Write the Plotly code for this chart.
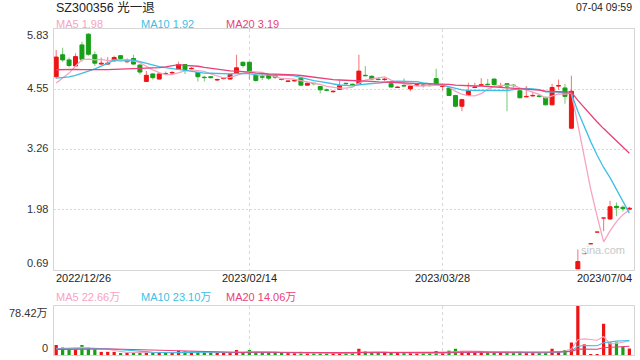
import plotly.graph_objects as go

# ---------------- data ----------------
title_text = "SZ300356 光一退"
timestamp_text = "07-04 09:59"

opens = [4.81, 5.28, 5.17, 5.04, 5.49, 5.72, 5.28, 5.08, 5.08, 5.15,
         5.26, 5.13, 5.20, 5.06, 4.71, 4.87, 4.76, 4.88, 4.89, 4.97,
         5.07, 4.98, 4.90, 4.80, 4.81, 4.74, 4.77, 4.76, 4.89, 5.12,
         5.12, 4.84, 4.81, 4.84, 4.84, 4.76, 4.71, 4.72, 4.78, 4.63,
         4.67, 4.60, 4.53, 4.49, 4.54, 4.67, 4.65, 4.66, 4.84, 4.82,
         4.76, 4.75, 4.66, 4.58, 4.62, 4.55, 4.63, 4.63, 4.63, 4.77,
         4.60, 4.57, 4.41, 4.18, 4.41, 4.58, 4.63, 4.65, 4.76, 4.61,
         4.66, 4.63, 4.51, 4.38, 4.40, 4.40, 4.37, 4.21, 4.61, 4.57,
         3.71, 0.70, 1.03, 1.24, 1.49, 1.79, 1.77, 2.04, 2.02, 1.98]
closes = [5.23, 5.17, 5.05, 5.24, 5.18, 5.29, 5.10, 5.10, 5.10, 5.22,
          5.20, 5.15, 5.08, 4.91, 4.84, 4.79, 4.87, 4.87, 4.90, 5.07,
          4.96, 4.99, 4.81, 4.79, 4.79, 4.75, 4.78, 4.86, 5.00, 5.05,
          4.93, 4.73, 4.80, 4.78, 4.80, 4.75, 4.72, 4.73, 4.63, 4.67,
          4.66, 4.53, 4.52, 4.50, 4.62, 4.66, 4.64, 4.93, 4.83, 4.76,
          4.75, 4.76, 4.59, 4.59, 4.61, 4.61, 4.64, 4.62, 4.62, 4.66,
          4.61, 4.41, 4.18, 4.32, 4.51, 4.59, 4.64, 4.64, 4.64, 4.62,
          4.61, 4.62, 4.36, 4.39, 4.41, 4.39, 4.21, 4.58, 4.62, 4.39,
          4.50, 0.86, 1.03, 1.24, 1.49, 1.79, 2.03, 2.01, 1.99, 2.00]
highs = [5.38, 5.43, 5.22, 5.31, 5.56, 5.74, 5.35, 5.22, 5.23, 5.26,
         5.27, 5.20, 5.28, 5.07, 4.93, 4.88, 4.88, 4.92, 4.93, 5.13,
         5.08, 5.02, 4.91, 4.83, 4.82, 4.77, 4.79, 4.88, 5.28, 5.13,
         5.13, 4.87, 4.88, 4.86, 4.85, 4.77, 4.73, 4.75, 4.80, 4.68,
         4.68, 4.61, 4.56, 4.52, 4.73, 4.68, 4.66, 5.28, 5.04, 4.84,
         4.80, 4.79, 4.68, 4.60, 4.77, 4.62, 4.66, 4.66, 4.65, 4.98,
         4.62, 4.58, 4.42, 4.34, 4.68, 4.68, 4.78, 4.76, 4.77, 4.68,
         4.67, 4.65, 4.52, 4.61, 4.49, 4.42, 4.38, 4.66, 4.75, 4.66,
         4.83, 1.12, 1.03, 1.24, 1.49, 1.79, 2.16, 2.12, 2.06, 2.03]
lows = [4.76, 5.13, 5.01, 5.02, 5.13, 5.26, 5.04, 5.07, 5.07, 5.13,
        5.18, 5.11, 5.07, 4.86, 4.70, 4.75, 4.75, 4.84, 4.86, 4.96,
        4.87, 4.96, 4.71, 4.71, 4.77, 4.72, 4.75, 4.75, 4.88, 5.00,
        4.75, 4.70, 4.74, 4.74, 4.76, 4.73, 4.70, 4.71, 4.62, 4.62,
        4.63, 4.45, 4.50, 4.47, 4.53, 4.64, 4.63, 4.65, 4.82, 4.74,
        4.73, 4.72, 4.58, 4.57, 4.60, 4.50, 4.61, 4.58, 4.60, 4.65,
        4.52, 4.40, 4.16, 4.07, 4.40, 4.57, 4.62, 4.63, 4.63, 4.60,
        4.07, 4.58, 4.35, 4.37, 4.39, 4.36, 4.20, 4.20, 4.53, 4.23,
        3.70, 0.69, 1.03, 1.24, 1.49, 1.51, 1.75, 1.83, 1.93, 1.96]
volumes = [16, 12, 9, 9, 16, 12, 9, 5, 5, 5,
           2, 4, 4, 5, 3, 3, 4, 3, 3, 7,
           6, 3, 6, 5, 4, 3, 2, 4, 8, 3,
           8, 5, 4, 5, 3, 3, 2, 2, 5, 3,
           3, 4, 3, 2, 4, 3, 2, 10, 6, 4,
           3, 3, 4, 3, 3, 3, 2, 3, 3, 6.4,
           3, 7, 10, 6, 5, 4, 4, 3, 4, 3,
           5, 3, 5, 3, 3, 3, 4, 10, 6, 8,
           20, 78.42, 17, 1.1, 1.2, 50, 20, 20, 13, 10.3]  # 万

# closes / volumes before the visible window (seed the moving averages)
prior_closes = [5.05, 5.10, 5.20, 5.25, 5.18, 5.12, 5.15, 5.10, 5.12, 5.13,
                5.00, 4.95, 4.90, 4.80, 4.75, 4.62, 4.55, 4.50, 4.49]
prior_volumes = [8, 8, 8, 8, 8, 8, 8, 8, 8, 8,
                 10, 10, 10, 10, 10, 9, 8, 9, 8]

date_labels = ["2022/12/26", "2023/02/14", "2023/03/28", "2023/07/04"]
date_index = [0, 30, 60, 89]
price_tick_vals = [5.83, 4.545, 3.26, 1.975, 0.69]
price_tick_text = ["5.83", "4.55", "3.26", "1.98", "0.69"]
vol_max = 78.42
vol_tick_text = ["78.42万", "0"]
price_ma_text = ["MA5 1.98", "MA10 1.92", "MA20 3.19"]
vol_ma_text = ["MA5 22.66万", "MA10 23.10万", "MA20 14.06万"]
ma_periods = [5, 10, 20]

# ---------------- styles ----------------
RED = "#ee1414"
GREEN = "#17a017"
RED_W = "rgba(238,20,20,0.55)"
GREEN_W = "rgba(23,160,23,0.55)"
MA_COLORS = ["#f7a3c2", "#3dbfe4", "#ea3f78"]
GRID = "#d9d9d9"
BORDER = "#d6d6d6"
TXT = "#333333"
FONT = "Arial, 'Liberation Sans', 'Noto Sans CJK SC', sans-serif"


def rolling_mean(prior, vals, n):
    allv = list(prior) + list(vals)
    off = len(prior)
    return [sum(allv[off + i - n + 1: off + i + 1]) / n for i in range(len(vals))]


n = len(closes)
idx = list(range(n))
up = [c >= o for o, c in zip(opens, closes)]
body_col = [RED if u else GREEN for u in up]
wick_col = [RED_W if u else GREEN_W for u in up]

fig = go.Figure()

# wicks
fig.add_trace(go.Bar(x=idx, y=[h - l for h, l in zip(highs, lows)], base=lows,
                     width=0.17, marker=dict(color=wick_col, line=dict(width=0)),
                     xaxis="x", yaxis="y", hoverinfo="skip", showlegend=False))
# bodies
fig.add_trace(go.Bar(x=idx, y=[abs(c - o) for o, c in zip(opens, closes)],
                     base=[min(o, c) for o, c in zip(opens, closes)],
                     width=0.62, marker=dict(color=body_col, line=dict(color=body_col, width=1)),
                     xaxis="x", yaxis="y", hoverinfo="skip", showlegend=False))
# price MAs
for p, col in zip(ma_periods, MA_COLORS):
    fig.add_trace(go.Scatter(x=idx, y=rolling_mean(prior_closes, closes, p), mode="lines",
                             line=dict(color=col, width=1.3), xaxis="x", yaxis="y",
                             hoverinfo="skip", showlegend=False))
# volume
fig.add_trace(go.Bar(x=idx, y=volumes, width=0.5, marker=dict(color=body_col, line=dict(width=0)),
                     xaxis="x2", yaxis="y2", hoverinfo="skip", showlegend=False))
for p, col in zip(ma_periods, MA_COLORS):
    fig.add_trace(go.Scatter(x=idx, y=rolling_mean(prior_volumes, volumes, p), mode="lines",
                             line=dict(color=col, width=1.1), xaxis="x2", yaxis="y2",
                             hoverinfo="skip", showlegend=False))

L, R, T, B = 54, 6, 29, 5
H = 360 - T - B
W = 640 - L - R


def py(pix):
    return (360 - B - pix) / H


def px(pix):
    return (pix - L) / W


xr = [-0.34, 89.72]
common_x = dict(range=xr, showline=True, mirror=True, linecolor=BORDER, linewidth=1,
                showgrid=True, tickvals=date_index[1:3], gridcolor=GRID, griddash="3px,3px",
                gridwidth=1, showticklabels=False, zeroline=False, ticks="", fixedrange=True)

fig.update_layout(
    width=640, height=360, margin=dict(l=L, r=R, t=T, b=B),
    paper_bgcolor="white", plot_bgcolor="white", barmode="overlay",
    showlegend=False, font=dict(family=FONT, color=TXT, size=11),
    xaxis=dict(domain=[0, 1], anchor="y", **common_x),
    xaxis2=dict(domain=[0, 1], anchor="y2", matches="x", **common_x),
    yaxis=dict(domain=[py(269.5), 1], range=[price_tick_vals[-1], price_tick_vals[0]],
               tickvals=price_tick_vals[1:4], showgrid=True, gridcolor=GRID, griddash="2px,2px",
               showline=True, mirror=True, linecolor=BORDER, linewidth=1,
               showticklabels=False, zeroline=False, ticks="", fixedrange=True),
    yaxis2=dict(domain=[0, py(306)], range=[0, vol_max], showgrid=False,
                showline=True, mirror=True, linecolor=BORDER, linewidth=1,
                showticklabels=False, zeroline=False, ticks="", fixedrange=True),
)

ann = []
ann.append(dict(text=title_text, xref="paper", yref="paper", x=px(54), y=py(8),
                xanchor="left", yanchor="middle", showarrow=False,
                font=dict(size=12.5, color="#222")))
ann.append(dict(text=timestamp_text, xref="paper", yref="paper", x=1, y=py(7),
                xanchor="right", yanchor="middle", showarrow=False,
                font=dict(size=10.5, color="#222")))
for t, col, xp in zip(price_ma_text, MA_COLORS, [54, 139, 224]):
    ann.append(dict(text=t, xref="paper", yref="paper", x=px(xp), y=py(24),
                    xanchor="left", yanchor="middle", showarrow=False,
                    font=dict(size=11, color=col)))
for t, col, xp in zip(vol_ma_text, MA_COLORS, [54, 139, 224]):
    ann.append(dict(text=t, xref="paper", yref="paper", x=px(xp), y=py(297),
                    xanchor="left", yanchor="middle", showarrow=False,
                    font=dict(size=11, color=col)))
shifts = [-5.5, 1.5, 1.5, 0.5, 6.5]
for v, t, s in zip(price_tick_vals, price_tick_text, shifts):
    ann.append(dict(text=t, xref="paper", yref="y", x=px(50), y=v, yshift=s,
                    xanchor="right", yanchor="middle", showarrow=False,
                    font=dict(size=11, color=TXT)))
ann.append(dict(text=vol_tick_text[0], xref="paper", yref="y2", x=px(50), y=vol_max, yshift=-7,
                xanchor="right", yanchor="middle", showarrow=False, font=dict(size=11, color=TXT)))
ann.append(dict(text=vol_tick_text[1], xref="paper", yref="y2", x=px(50), y=0, yshift=7,
                xanchor="right", yanchor="middle", showarrow=False, font=dict(size=11, color=TXT)))
for i, (d, k) in enumerate(zip(date_labels, date_index)):
    if i == 0:
        a = dict(xref="paper", x=0, xanchor="left")
    elif i == len(date_labels) - 1:
        a = dict(xref="paper", x=1, xanchor="right")
    else:
        a = dict(xref="x", x=k, xanchor="center")
    a.update(text=d, yref="paper", y=py(278), yanchor="middle", showarrow=False,
             font=dict(size=11, color="#222"))
    ann.append(a)
ann.append(dict(text="sina.com", xref="paper", yref="paper", x=px(603), y=py(250),
                xanchor="center", yanchor="middle", showarrow=False,
                font=dict(size=11, color="#c8c8c8")))
fig.update_layout(annotations=ann)

fig.write_html("out.html")
